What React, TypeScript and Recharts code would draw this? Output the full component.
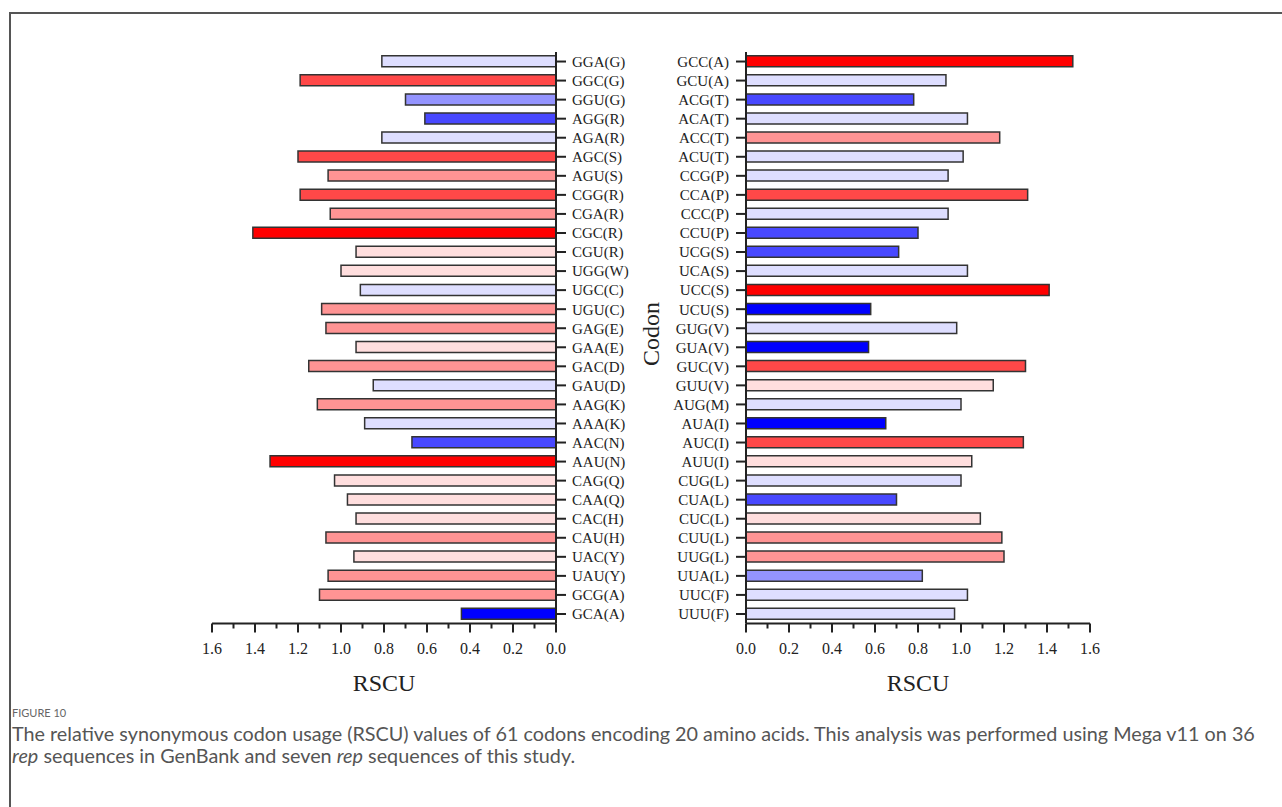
import React from 'react';
import { BarChart, Bar, XAxis, YAxis, Cell } from 'recharts';

const leftCodons = ['GGA(G)','GGC(G)','GGU(G)','AGG(R)','AGA(R)','AGC(S)','AGU(S)','CGG(R)','CGA(R)','CGC(R)','CGU(R)','UGG(W)','UGC(C)','UGU(C)','GAG(E)','GAA(E)','GAC(D)','GAU(D)','AAG(K)','AAA(K)','AAC(N)','AAU(N)','CAG(Q)','CAA(Q)','CAC(H)','CAU(H)','UAC(Y)','UAU(Y)','GCG(A)','GCA(A)'];
const leftValues = [0.81,1.19,0.70,0.61,0.81,1.20,1.06,1.19,1.05,1.41,0.93,1.00,0.91,1.09,1.07,0.93,1.15,0.85,1.11,0.89,0.67,1.33,1.03,0.97,0.93,1.07,0.94,1.06,1.10,0.44];

const rightCodons = ['GCC(A)','GCU(A)','ACG(T)','ACA(T)','ACC(T)','ACU(T)','CCG(P)','CCA(P)','CCC(P)','CCU(P)','UCG(S)','UCA(S)','UCC(S)','UCU(S)','GUG(V)','GUA(V)','GUC(V)','GUU(V)','AUG(M)','AUA(I)','AUC(I)','AUU(I)','CUG(L)','CUA(L)','CUC(L)','CUU(L)','UUG(L)','UUA(L)','UUC(F)','UUU(F)'];
const rightValues = [1.52,0.93,0.78,1.03,1.18,1.01,0.94,1.31,0.94,0.80,0.71,1.03,1.41,0.58,0.98,0.57,1.30,1.15,1.00,0.65,1.29,1.05,1.00,0.70,1.09,1.19,1.20,0.82,1.03,0.97];

const xTicks = [0,0.1,0.2,0.3,0.4,0.5,0.6,0.7,0.8,0.9,1.0,1.1,1.2,1.3,1.4,1.5,1.6];

const palette = ['#0000FF','#4848FF','#9494FF','#DEDEFF','#FFDEDE','#FF9494','#FF4848','#FF0000'];

const SERIF = '"Liberation Serif", "DejaVu Serif", serif';
const INK = '#222';

function colorsFor(values: number[]) {
  const min = Math.min(...values);
  const max = Math.max(...values);
  const step = (max - min) / palette.length;
  return values.map(v => palette[Math.min(palette.length - 1, Math.floor((v - min) / step + 1e-9))]);
}

const leftData = leftCodons.map((c, i) => ({ codon: c, value: leftValues[i] }));
const rightData = rightCodons.map((c, i) => ({ codon: c, value: rightValues[i] }));
const leftColors = colorsFor(leftValues);
const rightColors = colorsFor(rightValues);

const XTick = (props: any) => {
  const { x, y, payload } = props;
  const v = payload.value as number;
  const major = Math.round(v * 10) % 2 === 0;
  return (
    <g>
      <line x1={x} x2={x} y1={y} y2={y + (major ? 9 : 5)} stroke={INK} strokeWidth={2} />
      {major && (
        <text x={x} y={y + 30} textAnchor="middle" fontFamily={SERIF} fontSize={16} fill={INK}>
          {v.toFixed(1)}
        </text>
      )}
    </g>
  );
};

const H = 700;

export default function App() {
  return (
    <div style={{ position: 'absolute', left: 0, top: 0, width: 1282, height: 807, background: '#fff', overflow: 'hidden' }}>
      <div style={{ position: 'absolute', left: 9, top: 12, width: 1282, height: 807, borderTop: '2px solid #555', borderLeft: '2px solid #555' }} />

      <div style={{ position: 'absolute', left: 0, top: 0 }}>
        <BarChart width={700} height={H} data={leftData} layout="vertical" barCategoryGap="20%"
          margin={{ top: 52, bottom: 46.5, left: 212, right: 64 }}>
          <XAxis type="number" domain={[0, 1.6]} reversed ticks={xTicks} interval={0} tickLine={false}
            tickSize={0} tickMargin={0} tick={<XTick />} axisLine={{ stroke: INK, strokeWidth: 2 }} height={30} />
          <YAxis type="category" dataKey="codon" orientation="right" width={80} interval={0}
            tickSize={10} tickMargin={6} axisLine={{ stroke: INK, strokeWidth: 2 }} tickLine={{ stroke: INK, strokeWidth: 2 }}
            tick={{ fontFamily: SERIF, fontSize: 15, fill: INK }} />
          <Bar dataKey="value" isAnimationActive={false} stroke="#333" strokeWidth={1.5}>
            {leftData.map((d, i) => <Cell key={d.codon} fill={leftColors[i]} />)}
          </Bar>
        </BarChart>
      </div>

      <div style={{ position: 'absolute', left: 600, top: 0 }}>
        <BarChart width={600} height={H} data={rightData} layout="vertical" barCategoryGap="20%"
          margin={{ top: 52, bottom: 46.5, left: 66, right: 110 }}>
          <XAxis type="number" domain={[0, 1.6]} ticks={xTicks} interval={0} tickLine={false}
            tickSize={0} tickMargin={0} tick={<XTick />} axisLine={{ stroke: INK, strokeWidth: 2 }} height={30} />
          <YAxis type="category" dataKey="codon" orientation="left" width={80} interval={0}
            tickSize={10} tickMargin={7} axisLine={{ stroke: INK, strokeWidth: 2 }} tickLine={{ stroke: INK, strokeWidth: 2 }}
            tick={{ fontFamily: SERIF, fontSize: 15, fill: INK }} />
          <Bar dataKey="value" isAnimationActive={false} stroke="#333" strokeWidth={1.5}>
            {rightData.map((d, i) => <Cell key={d.codon} fill={rightColors[i]} />)}
          </Bar>
        </BarChart>
      </div>

      <div style={{ position: 'absolute', left: 284, width: 200, top: 668, textAlign: 'center', fontFamily: SERIF, fontSize: 24, color: INK, lineHeight: '30px' }}>RSCU</div>
      <div style={{ position: 'absolute', left: 818, width: 200, top: 668, textAlign: 'center', fontFamily: SERIF, fontSize: 24, color: INK, lineHeight: '30px' }}>RSCU</div>
      <div style={{ position: 'absolute', left: 551, top: 319, width: 200, textAlign: 'center', fontFamily: SERIF, fontSize: 24, color: INK, lineHeight: '30px', transform: 'rotate(-90deg)' }}>Codon</div>

      <div style={{ position: 'absolute', left: 12, top: 704, fontFamily: 'Lato, "Open Sans", sans-serif', fontSize: 11, color: '#666', lineHeight: '18px' }}>FIGURE 10</div>
      <div style={{ position: 'absolute', left: 12, top: 722, width: 1270, whiteSpace: 'nowrap', fontFamily: 'Lato, "Open Sans", sans-serif', fontSize: 19.8, color: '#555', lineHeight: '22px' }}>
        The relative synonymous codon usage (RSCU) values of 61 codons encoding 20 amino acids. This analysis was performed using Mega v11 on 36<br />
        <i>rep</i> sequences in GenBank and seven <i>rep</i> sequences of this study.
      </div>
    </div>
  );
}
